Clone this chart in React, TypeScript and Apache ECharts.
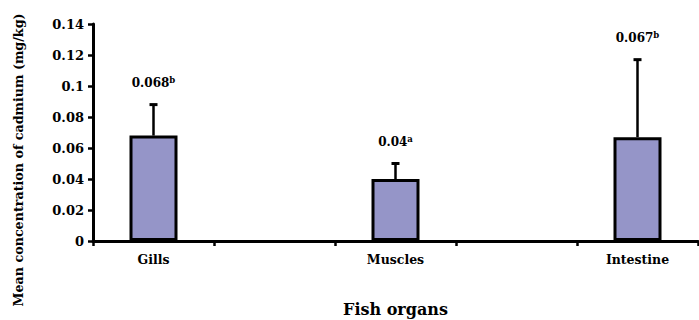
import React, { useEffect, useRef } from "react";
import * as echarts from "echarts";

const categories = ["Gills", "", "Muscles", "", "Intestine"];
const means = [0.068, null, 0.04, null, 0.067];
const errorTops = [0.088, null, 0.05, null, 0.117];
const valueLabels = ["0.068", "", "0.04", "", "0.067"];
const superscripts = ["b", "", "a", "", "b"];

const FONT = "DejaVu Serif";

export default function App() {
  const ref = useRef<HTMLDivElement>(null);
  useEffect(() => {
    const chart = echarts.init(ref.current!, null, { renderer: "svg" });
    const errData: any[] = [];
    means.forEach((m, i) => {
      if (m != null) errData.push([i, m, errorTops[i], valueLabels[i], superscripts[i]]);
    });
    chart.setOption({
      animation: false,
      grid: { left: 93, right: 1, top: 24, bottom: 79, containLabel: false, outerBoundsMode: "none" },
      xAxis: {
        type: "category",
        data: categories,
        axisLine: { lineStyle: { color: "#000", width: 3 } },
        axisTick: { show: true, interval: 0, length: 5, lineStyle: { color: "#000", width: 2.5 } },
        axisLabel: { interval: 0, color: "#000", fontFamily: FONT, fontWeight: "bold", fontSize: 12.5, margin: 12 },
        name: "Fish organs",
        nameLocation: "middle",
        nameGap: 60,
        nameTextStyle: { color: "#000", fontFamily: FONT, fontWeight: "bold", fontSize: 16 },
      },
      yAxis: {
        type: "value",
        min: 0,
        max: 0.14,
        interval: 0.02,
        splitLine: { show: false },
        axisLine: { show: true, lineStyle: { color: "#000", width: 3 } },
        axisTick: { show: true, length: 5, lineStyle: { color: "#000", width: 2.5 } },
        axisLabel: { color: "#000", fontFamily: FONT, fontWeight: "bold", fontSize: 13, margin: 9 },
      },
      graphic: [
        {
          type: "text",
          x: 18,
          y: 160,
          rotation: Math.PI / 2,
          style: {
            text: "Mean concentration of cadmium (mg/kg)",
            fill: "#000",
            font: `bold 12.7px "${FONT}"`,
            align: "center",
            verticalAlign: "middle",
          },
        },
      ],
      series: [
        {
          type: "bar",
          data: means,
          barWidth: 48,
          itemStyle: { color: "#9595C8", borderColor: "#000", borderWidth: 3 },
        },
        {
          type: "custom",
          data: errData,
          z: 1,
          renderItem: (params: any, api: any) => {
            const x = api.value(0);
            const base = api.coord([x, api.value(1)]);
            const top = api.coord([x, api.value(2)]);
            const label = errData[params.dataIndex][3];
            const sup = errData[params.dataIndex][4];
            return {
              type: "group",
              children: [
                {
                  type: "line",
                  shape: { x1: base[0], y1: base[1], x2: top[0], y2: top[1] },
                  style: { stroke: "#000", lineWidth: 2.5 },
                },
                {
                  type: "line",
                  shape: { x1: top[0] - 4, y1: top[1], x2: top[0] + 4, y2: top[1] },
                  style: { stroke: "#000", lineWidth: 3 },
                },
                {
                  type: "text",
                  x: top[0],
                  y: top[1] - 22,
                  style: {
                    text: `{v|${label}}{s|${sup}}`,
                    align: "center",
                    verticalAlign: "middle",
                    rich: {
                      v: { fontFamily: FONT, fontWeight: "bold", fontSize: 12, fill: "#000" },
                      s: { fontFamily: FONT, fontWeight: "bold", fontSize: 8.5, fill: "#000", padding: [0, 0, 6, 0] },
                    },
                  },
                },
              ],
            };
          },
        },
      ],
    });
    return () => chart.dispose();
  }, []);
  return <div ref={ref} style={{ width: 699, height: 320, position: "absolute", left: 0, top: 0 }} />;
}
